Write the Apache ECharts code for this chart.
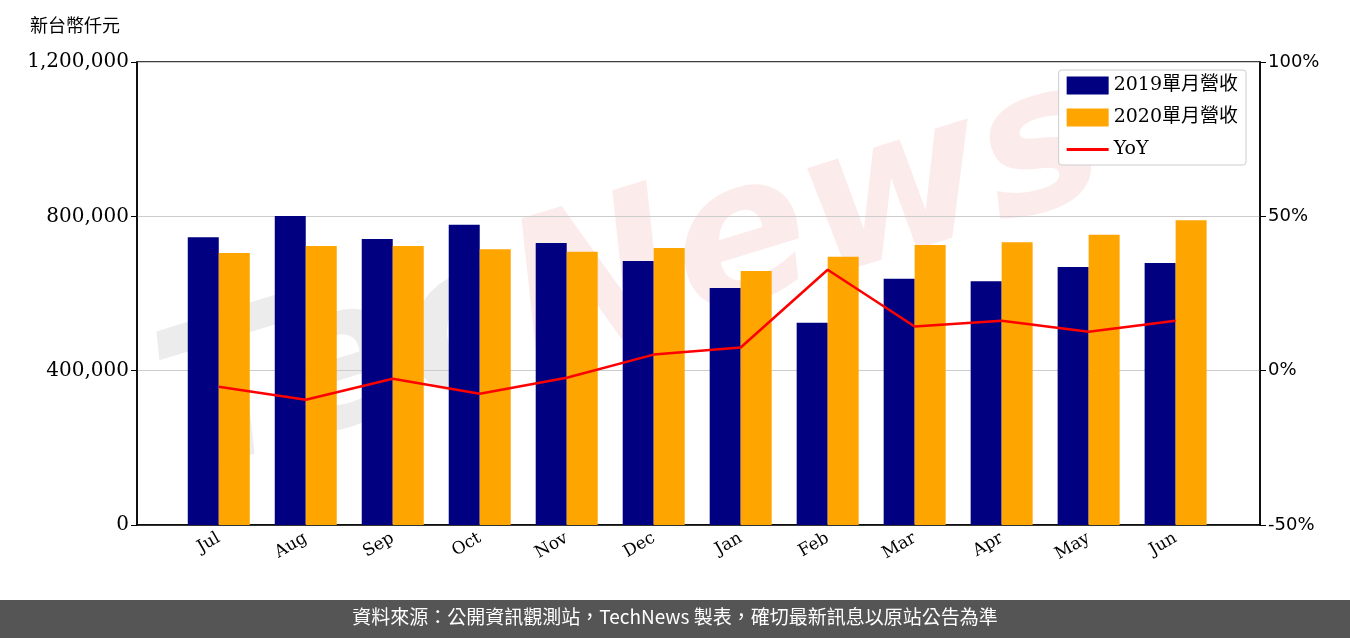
<!DOCTYPE html>
<html><head><meta charset="utf-8">
<script src="https://cdn.jsdelivr.net/npm/echarts@6/dist/echarts.min.js"></script>
<style>body{margin:0}#c{width:1350px;height:638px}</style></head>
<body><div id="c"></div>
<script>
var months = ['Jul','Aug','Sep','Oct','Nov','Dec','Jan','Feb','Mar','Apr','May','Jun'];
var rev2019 = [746000,801000,741000,778000,731000,684000,614000,524000,638000,632000,669000,679000];
var rev2020 = [705000,723000,723000,715000,708000,718000,658000,695000,726000,733000,752000,790000];
var yoy = [-5.2,-9.4,-2.6,-7.5,-2.3,5.2,7.5,32.7,14.3,16.2,12.6,16.2];

var serif = 'DejaVu Serif';
var idx = months.map(function (m, i) { return i; });
function pairs(arr) { return arr.map(function (v, i) { return [i, v]; }); }

var chart = echarts.init(document.getElementById('c'));
chart.setOption({
  animation: false,
  grid: {left: 137, right: 90, top: 62, bottom: 113, show: true, borderColor: '#000', borderWidth: 1.5},
  graphic: [
    {type: 'text', left: 30, top: 16, style: {text: '新台幣仟元', font: '18px "Noto Sans CJK TC"', fill: '#000'}},
    {type: 'text', x: 140, y: 330, rotation: 0.3, z: -1,
     style: {text: '{a|Tec}{b|News}', rich: {
       a: {font: 'italic bold 200px "DejaVu Sans"', fill: 'rgba(150,150,150,0.18)'},
       b: {font: 'italic bold 200px "DejaVu Sans"', fill: 'rgba(230,90,90,0.12)'}}}},
    {type: 'rect', left: 0, top: 600, shape: {width: 1350, height: 38}, style: {fill: '#555'}},
    {type: 'text', left: 'center', top: 607, style: {text: '資料來源：公開資訊觀測站，TechNews 製表，確切最新訊息以原站公告為準', font: '19px "Noto Sans CJK TC"', fill: '#fff'}}
  ],
  legend: {
    right: 104, top: 70, orient: 'vertical', itemGap: 13, itemWidth: 42, itemHeight: 18,
    backgroundColor: '#fff', borderColor: '#ccc', borderWidth: 1, borderRadius: 3, padding: [6, 8, 6, 8],
    textStyle: {fontFamily: serif + ', "Noto Sans CJK TC"', fontSize: 19, color: '#000'},
    data: [{name: '2019單月營收', icon: 'rect'}, {name: '2020單月營收', icon: 'rect'},
           {name: 'YoY', icon: 'path://M0,9 L42,9 L42,12 L0,12 Z'}]
  },
  xAxis: {
    type: 'value', min: -0.94, max: 11.97,
    axisLine: {onZero: false, lineStyle: {color: '#000', width: 1.5}},
    splitLine: {show: false},
    axisTick: {show: false},
    axisLabel: {rotate: 30, fontFamily: serif, fontSize: 17, color: '#000', margin: 12,
      customValues: idx, formatter: function (v) { return months[Math.round(v)]; }}
  },
  yAxis: [{
    type: 'value', min: 0, max: 1200000, interval: 400000, position: 'left',
    axisLine: {show: true, onZero: false, lineStyle: {color: '#000', width: 1.5}},
    axisTick: {show: true, length: 6, lineStyle: {color: '#000'}},
    axisLabel: {fontFamily: serif, fontSize: 20, color: '#000', formatter: function (v) { return v.toLocaleString('en-US'); }},
    splitLine: {lineStyle: {color: '#ccc', width: 1.2}}
  }, {
    type: 'value', min: -50, max: 100, interval: 50, position: 'right',
    axisLine: {show: true, onZero: false, lineStyle: {color: '#000', width: 1.5}},
    axisTick: {show: true, length: 6, lineStyle: {color: '#000'}},
    axisLabel: {fontFamily: 'DejaVu Sans', fontSize: 18, color: '#000', formatter: '{value}%'},
    splitLine: {show: false}
  }],
  series: [
    {name: '2019單月營收', type: 'bar', data: pairs(rev2019), barWidth: 31, barGap: '0%', itemStyle: {color: '#000080'}},
    {name: '2020單月營收', type: 'bar', data: pairs(rev2020), barWidth: 31, itemStyle: {color: '#FFA500'}},
    {name: 'YoY', type: 'line', yAxisIndex: 1, data: pairs(yoy), showSymbol: false, symbol: 'none',
     lineStyle: {color: '#ff0000', width: 2.5}, itemStyle: {color: '#ff0000'}}
  ]
});
</script></body></html>
